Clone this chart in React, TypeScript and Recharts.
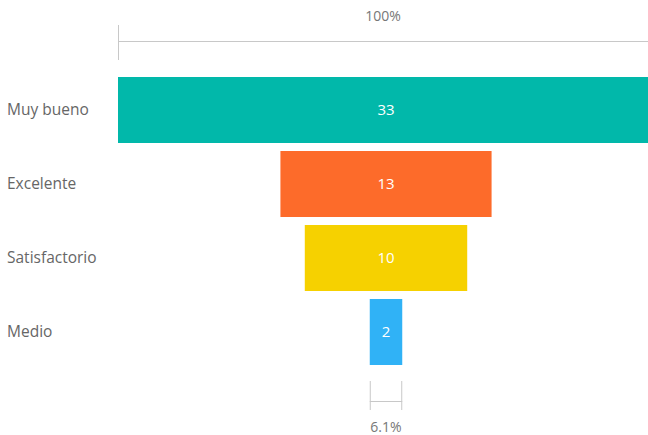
import React from 'react';
import { Bar, BarChart, Cell, LabelList, XAxis, YAxis } from 'recharts';

const categories = ['Muy bueno', 'Excelente', 'Satisfactorio', 'Medio'];
const values = [33, 13, 10, 2];
const colors = ['#01B8AA', '#FD6B2A', '#F6D100', '#30B2F6'];

const maxValue = Math.max(...values);
const data = categories.map((name, i) => ({
  name,
  value: values[i],
  // invisible spacer so each bar sits centred like a funnel
  pad: (maxValue - values[i]) / 2,
}));

const font = '"Open Sans", "Segoe UI", sans-serif';
const bracket = '#c8c8c8';

const pct = (v: number) => {
  const p = (v / values[0]) * 100;
  return p === 100 ? '100%' : `${p.toFixed(1)}%`;
};

function FunnelShape(props: any) {
  const { x, y, width, height, fill, index } = props;
  const last = values.length - 1;
  return (
    <g>
      <rect x={x} y={y} width={width} height={height} fill={fill} />
      {index === 0 && (
        <g>
          <line x1={x + 0.5} x2={x + 0.5} y1={y - 52} y2={y - 17} stroke={bracket} />
          <line x1={x} x2={x + width} y1={y - 35.5} y2={y - 35.5} stroke={bracket} />
          <text
            x={x + width / 2 - 3}
            y={y - 56}
            textAnchor="middle"
            fontSize={14}
            fontFamily={font}
            fill="#777"
          >
            {pct(values[index])}
          </text>
        </g>
      )}
      {index === last && (
        <g>
          <line x1={x + 0.5} x2={x + 0.5} y1={y + height + 16} y2={y + height + 45} stroke={bracket} />
          <line x1={x + width - 0.5} x2={x + width - 0.5} y1={y + height + 16} y2={y + height + 45} stroke={bracket} />
          <line x1={x} x2={x + width} y1={y + height + 36.5} y2={y + height + 36.5} stroke={bracket} />
          <text
            x={x + width / 2}
            y={y + height + 67}
            textAnchor="middle"
            fontSize={14}
            fontFamily={font}
            fill="#777"
          >
            {pct(values[index])}
          </text>
        </g>
      )}
    </g>
  );
}

function CategoryTick({ y, payload }: any) {
  return (
    <text x={7} y={y} dy={5} textAnchor="start" fontSize={15.5} fontFamily={font} fill="#666">
      {payload.value}
    </text>
  );
}

export default function App() {
  return (
    <div style={{ position: 'absolute', left: 0, top: 0, width: 648, height: 435, overflow: 'hidden', background: '#fff' }}>
      <BarChart
        width={654}
        height={435}
        data={data}
        layout="vertical"
        margin={{ top: 73, right: 0, bottom: 66, left: 0 }}
        barSize={66}
      >
        <XAxis type="number" domain={[0, maxValue]} hide />
        <YAxis
          type="category"
          dataKey="name"
          width={118}
          axisLine={false}
          tickLine={false}
          tick={<CategoryTick />}
        />
        <Bar dataKey="pad" stackId="f" fill="#fff" fillOpacity={0} isAnimationActive={false} />
        <Bar dataKey="value" stackId="f" shape={<FunnelShape />} isAnimationActive={false}>
          {data.map((d, i) => (
            <Cell key={d.name} fill={colors[i]} />
          ))}
          <LabelList dataKey="value" position="center" fill="#fff" fontSize={15} fontFamily={font} />
        </Bar>
      </BarChart>
    </div>
  );
}
